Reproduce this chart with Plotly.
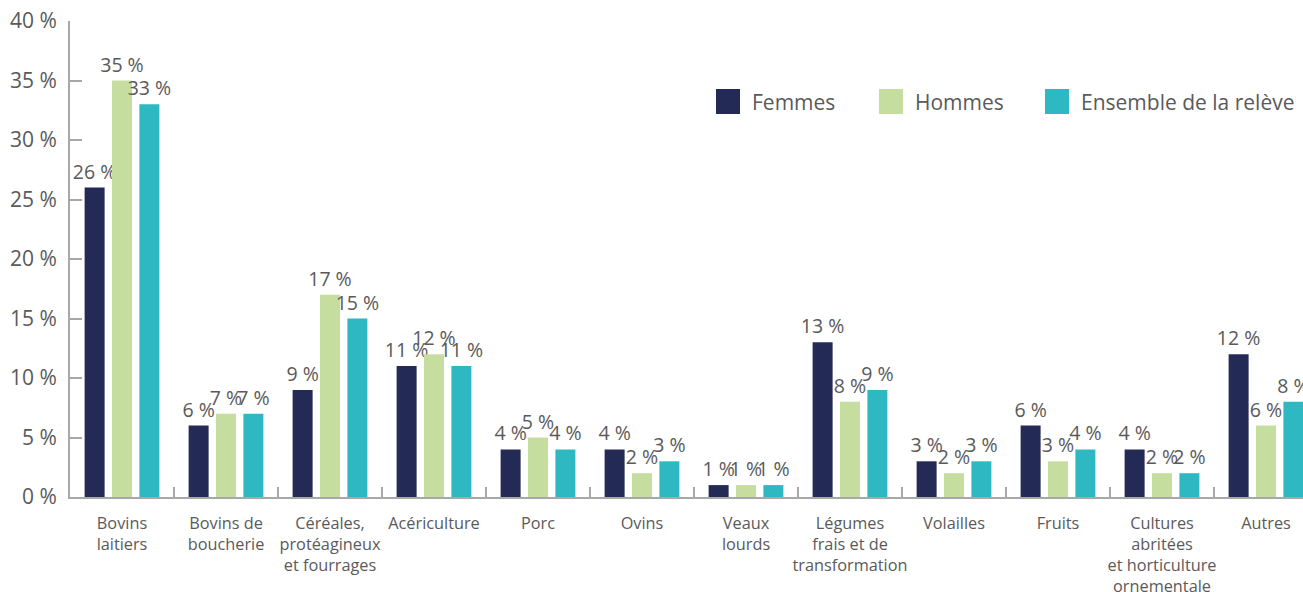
import plotly.graph_objects as go

categories = [
    "Bovins<br>laitiers",
    "Bovins de<br>boucherie",
    "Céréales,<br>protéagineux<br>et fourrages",
    "Acériculture",
    "Porc",
    "Ovins",
    "Veaux<br>lourds",
    "Légumes<br>frais et de<br>transformation",
    "Volailles",
    "Fruits",
    "Cultures<br>abritées<br>et horticulture<br>ornementale",
    "Autres",
]
femmes = [26, 6, 9, 11, 4, 4, 1, 13, 3, 6, 4, 12]
hommes = [35, 7, 17, 12, 5, 2, 1, 8, 2, 3, 2, 6]
ensemble = [33, 7, 15, 11, 4, 3, 1, 9, 3, 4, 2, 8]

series_names = ["Femmes", "Hommes", "Ensemble de la relève"]
series_values = [femmes, hommes, ensemble]
colors = ["#242a56", "#c5de9f", "#2eb8c2"]

y_ticks = [0, 5, 10, 15, 20, 25, 30, 35, 40]
y_tick_labels = [f"{v} %" for v in y_ticks]

FONT = "Open Sans"
TEXT = "#5a5a5a"
AXIS = "#a8a8a8"

W, H = 1303, 592
L, R, T, B = 70, 0, 21, 95

fig = go.Figure()
for name, vals, col in zip(series_names, series_values, colors):
    fig.add_trace(go.Bar(
        x=categories, y=vals, name=name, marker_color=col, marker_line_width=0,
        text=[f"{v} %" for v in vals], texttemplate="%{text}",
        textposition="outside", constraintext="none", cliponaxis=False,
        textfont=dict(family=FONT, size=19.5, color=TEXT),
        showlegend=False,
    ))

fig.update_layout(
    width=W, height=H,
    margin=dict(l=L, r=R, t=T, b=B, pad=0, autoexpand=False),
    paper_bgcolor="white", plot_bgcolor="white",
    barmode="group", bargap=0.21, bargroupgap=0.27,
    font=dict(family=FONT, color=TEXT),
)
fig.update_xaxes(
    type="category", automargin=False, tickangle=0,
    range=[-0.5, -0.5 + (W - L - R) / 104.0],
    tickson="boundaries", ticks="inside", ticklen=10, tickcolor=AXIS, tickwidth=1.5,
    showline=True, linecolor=AXIS, linewidth=2,
    showgrid=False, zeroline=False,
    ticklabelstandoff=10,
    tickfont=dict(family=FONT, size=16.3, color=TEXT),
)
fig.update_yaxes(
    automargin=False,
    range=[0, 40], tickmode="array", tickvals=y_ticks, ticktext=y_tick_labels,
    ticks="inside", ticklen=12, tickcolor=AXIS, tickwidth=1.5,
    showline=True, linecolor=AXIS, linewidth=2,
    showgrid=False, zeroline=False,
    ticklabelstandoff=7,
    tickfont=dict(family=FONT, size=21, color=TEXT),
)

# Legend drawn as swatches + labels in paper coordinates
plot_w = W - L - R
plot_h = H - T - B
def px_x(p):
    return (p - L) / plot_w
def px_y(p):
    return (H - B - p) / plot_h

legend_x = [716, 879, 1045]
for name, col, lx in zip(series_names, colors, legend_x):
    fig.add_shape(type="rect", xref="paper", yref="paper",
                  x0=px_x(lx), x1=px_x(lx + 24), y0=px_y(114), y1=px_y(89),
                  fillcolor=col, line_width=0)
    fig.add_annotation(xref="paper", yref="paper", x=px_x(lx + 34), y=px_y(102),
                       text=name, showarrow=False, xanchor="left", yanchor="middle",
                       font=dict(family=FONT, size=21, color=TEXT))

fig.write_html("out.html")
